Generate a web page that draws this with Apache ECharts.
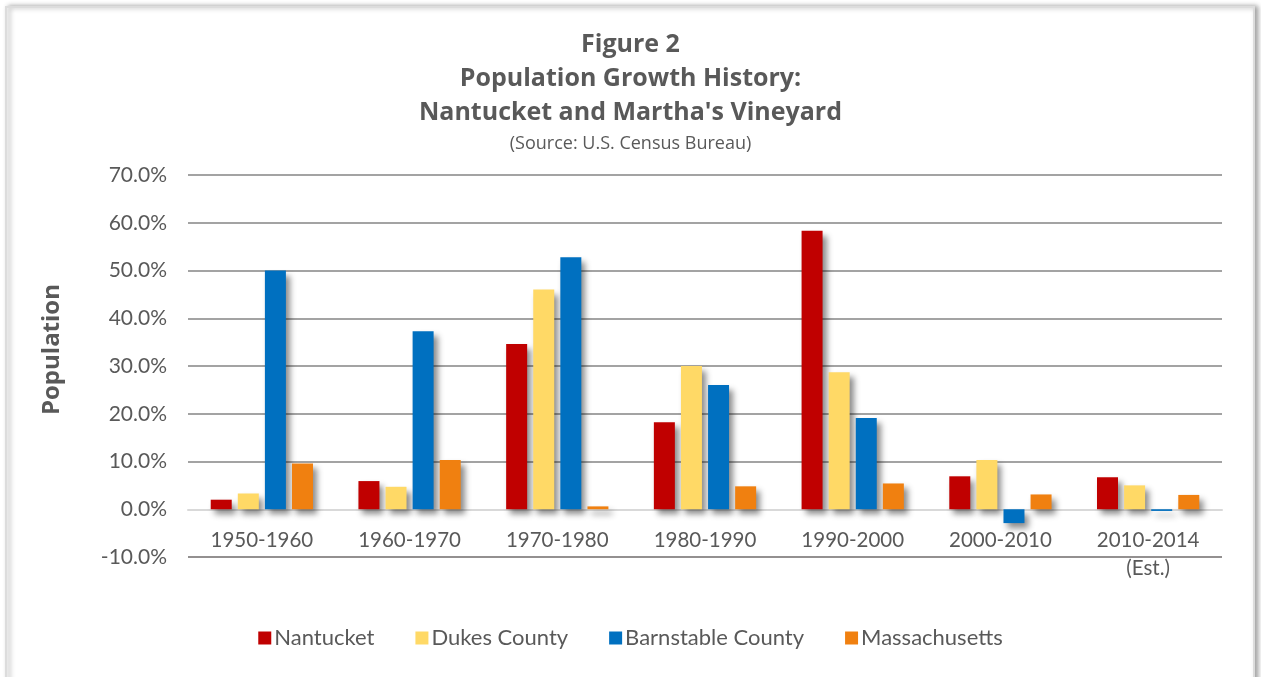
<!DOCTYPE html>
<html>
<head>
<meta charset="utf-8">
<script src="https://cdn.jsdelivr.net/npm/echarts@6/dist/echarts.min.js"></script>
<style>
html,body{margin:0;padding:0;background:#fff;}
#c{width:1261px;height:677px;}
</style>
</head>
<body>
<div id="c"></div>
<script>
const categories = ['1950-1960','1960-1970','1970-1980','1980-1990','1990-2000','2000-2010','2010-2014\n(Est.)'];
const nantucket = [2.0, 5.9, 34.6, 18.2, 58.3, 6.9, 6.7];
const dukes = [3.3, 4.7, 46.0, 30.0, 28.7, 10.3, 5.0];
const barnstable = [50.0, 37.3, 52.8, 26.0, 19.1, -2.9, -0.35];
const massachusetts = [9.6, 10.3, 0.6, 4.8, 5.4, 3.1, 3.0];
const seriesNames = ['Nantucket','Dukes County','Barnstable County','Massachusetts'];
const yTicks = {min: -10, max: 70, interval: 10};

const colors = ['#C00000','#FFD966','#0070C0','#F08010'];
const FONT = 'Lato';
const TFONT = 'Open Sans';
const TXT = '#595959';

const chart = echarts.init(document.getElementById('c'));
const shadow = {shadowColor:'rgba(0,0,0,0.45)', shadowBlur:6, shadowOffsetX:4, shadowOffsetY:5};
const mk = (name, data, i) => ({
  name, type:'bar', data, barWidth:21, barGap:'29%',
  itemStyle: Object.assign({color: colors[i]}, shadow)
});

const gridTop = 175, gridBottom = 120, H = 677;
const plotH = H - gridTop - gridBottom;
const zeroOffset = plotH * (0 - yTicks.min) / (yTicks.max - yTicks.min);

chart.setOption({
  animation:false,
  backgroundColor:'#fff',
  color: colors,
  graphic:[
    {type:'rect', z:-10, silent:true, shape:{x:6,y:7,width:1248,height:700},
     style:{fill:'#fff', stroke:'#dcdcdc', lineWidth:2, shadowColor:'rgba(0,0,0,0.35)', shadowBlur:5, shadowOffsetX:3, shadowOffsetY:0}},
    {type:'text', left:40, top:284, rotation:Math.PI/2,
     style:{text:'Population', font:'bold 24px "'+TFONT+'"', fill:TXT}}
  ],
  title:{
    text:'Figure 2\nPopulation Growth History:\nNantucket and Martha\'s Vineyard',
    subtext:'(Source: U.S. Census Bureau)',
    left:'center', top:23, itemGap:4,
    textStyle:{fontFamily:TFONT, fontWeight:'bold', fontSize:25, lineHeight:34, color:TXT},
    subtextStyle:{fontFamily:TFONT, fontSize:18, color:TXT, lineHeight:20}
  },
  legend:{
    data: seriesNames, bottom:23, left:'center',
    icon:'rect', itemWidth:13, itemHeight:13, itemGap:41,
    textStyle:{fontFamily:FONT, fontSize:22, color:TXT, padding:[0,0,0,-2]}
  },
  grid:{left:188, right:39, top:gridTop, bottom:gridBottom, containLabel:false},
  xAxis:{
    type:'category', data:categories,
    offset: -zeroOffset,
    axisLine:{onZero:false, lineStyle:{color:'#d9d9d9', width:2}},
    axisTick:{show:false},
    axisLabel:{fontFamily:FONT, fontSize:20.5, color:TXT, margin:17, lineHeight:28}
  },
  yAxis:{
    type:'value', min:yTicks.min, max:yTicks.max, interval:yTicks.interval,
    axisLine:{show:false}, axisTick:{show:false},
    axisLabel:{fontFamily:FONT, fontSize:21, color:TXT, margin:21, formatter:v=>v.toFixed(1)+'%'},
    splitLine:{lineStyle:{color:['#6f6b6b','#d9d9d9','#858585','#858585','#858585','#858585','#858585','#858585','#858585'], width:1.6}}
  },
  series:[
    mk(seriesNames[0], nantucket, 0),
    mk(seriesNames[1], dukes, 1),
    mk(seriesNames[2], barnstable, 2),
    mk(seriesNames[3], massachusetts, 3)
  ]
});
</script>
</body>
</html>
